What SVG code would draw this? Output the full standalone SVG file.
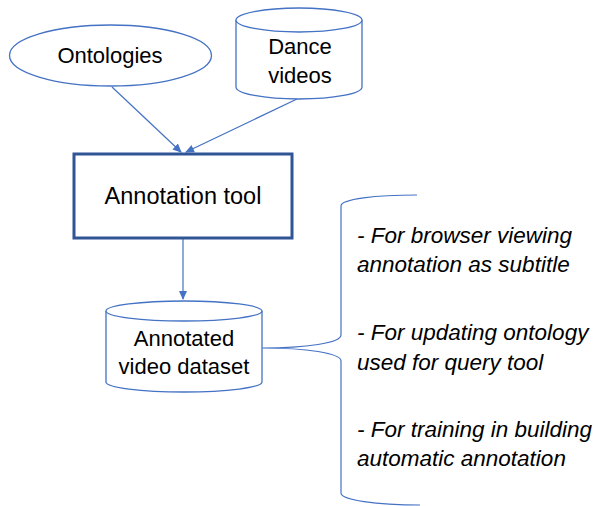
<svg xmlns="http://www.w3.org/2000/svg" width="600" height="506" viewBox="0 0 600 506">
<defs>
<style>
.shape{fill:#ffffff;stroke:#4472c4;stroke-width:1.3}
.box{fill:#ffffff;stroke:#2f5597;stroke-width:3}
.lbl{font-family:"Liberation Sans",Arial,sans-serif;font-size:22px;fill:#000;text-anchor:middle}
.note{font-family:"Liberation Sans",Arial,sans-serif;font-size:22.5px;font-style:italic;fill:#000}
.conn{fill:none;stroke:#4472c4;stroke-width:1.2}
</style>
<marker id="arr" markerWidth="10" markerHeight="10" refX="8" refY="5" orient="auto" markerUnits="userSpaceOnUse">
<path d="M0,1 L9,5 L0,9 Z" fill="#4472c4"/>
</marker>
</defs>
<g id="connectors">
<line class="conn" x1="112" y1="87" x2="181" y2="152" marker-end="url(#arr)"/>
<line class="conn" x1="297" y1="99" x2="186" y2="152" marker-end="url(#arr)"/>
<line class="conn" x1="183" y1="239" x2="183" y2="299" marker-end="url(#arr)"/>
</g>
<g id="ontologies">
<ellipse class="shape" cx="110.5" cy="55.5" rx="101" ry="30.5"/>
<text class="lbl" x="110" y="63">Ontologies</text>
</g>
<g id="dance-videos">
<path class="shape" d="M236,20 L236,87 A63,12 0 0 0 362,87 L362,20 A63,12 0 0 0 236,20 Z"/>
<path class="shape" d="M236,20 A63,12 0 0 0 362,20" fill="none"/>
<text class="lbl" x="300" y="54">Dance</text>
<text class="lbl" x="300" y="83">videos</text>
</g>
<g id="annotation-tool">
<rect class="box" x="74" y="154" width="218" height="84"/>
<text class="lbl" x="183" y="204" style="font-size:23.5px">Annotation tool</text>
</g>
<g id="annotated-dataset">
<path class="shape" d="M106,311 L106,382 A78,10 0 0 0 262,382 L262,311 A78,10 0 0 0 106,311 Z"/>
<path class="shape" d="M106,311 A78,10 0 0 0 262,311" fill="none"/>
<text class="lbl" x="184" y="346">Annotated</text>
<text class="lbl" x="184" y="374">video dataset</text>
</g>
<g id="brace">
<path class="conn" d="M417,195 C376,195 341,199 341,206 L341,335 C341,343 306,348 262,348 C306,348 341,353 341,361 L341,493 C341,500 376,505 420,505"/>
</g>
<g id="notes">
<text class="note" x="357" y="243">- For browser viewing</text>
<text class="note" x="357" y="272">annotation as subtitle</text>
<text class="note" x="357" y="340">- For updating ontology</text>
<text class="note" x="357" y="370">used for query tool</text>
<text class="note" x="357" y="437">- For training in building</text>
<text class="note" x="357" y="466">automatic annotation</text>
</g>
</svg>
